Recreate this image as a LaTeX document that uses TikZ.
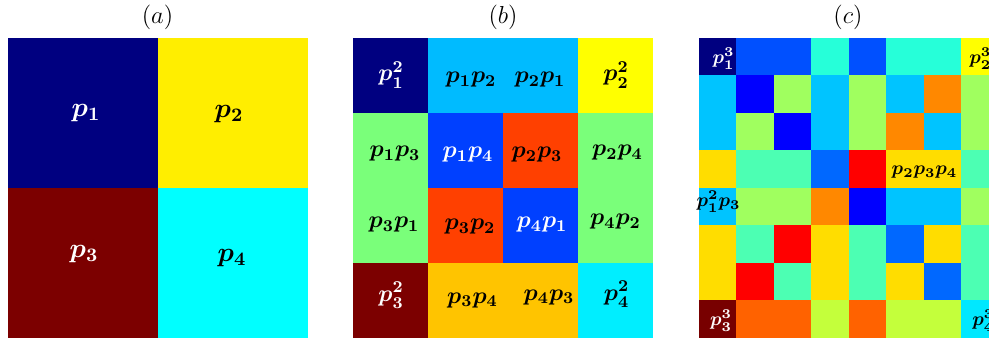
\RequirePackage{fix-cm}
\documentclass[tikz,border=0pt]{standalone}
\usepackage{amsmath}
\usetikzlibrary{positioning}

% jet colours
\definecolor{jnavy}{HTML}{000080}
\definecolor{jmaroon}{HTML}{7C0000}
\definecolor{jyella}{HTML}{FFEE00}
\definecolor{jyellow}{HTML}{FFFF00}
\definecolor{jcyan}{HTML}{00FFFF}
\definecolor{jcyanb}{HTML}{00EEFF}
\definecolor{jskyb}{HTML}{00BBFF}
\definecolor{jgreenb}{HTML}{7AFF7A}
\definecolor{jblueb}{HTML}{0040FF}
\definecolor{jredb}{HTML}{FF4000}
\definecolor{jgoldb}{HTML}{FFC400}
% panel (c)
\definecolor{cN}{HTML}{000080}
\definecolor{cB}{HTML}{0050FF}
\definecolor{cD}{HTML}{0068FF}
\definecolor{cU}{HTML}{0000FF}
\definecolor{cS}{HTML}{00C4FF}
\definecolor{cQ}{HTML}{26FFD9}
\definecolor{cA}{HTML}{4CFFB3}
\definecolor{cL}{HTML}{A0FF5F}
\definecolor{cW}{HTML}{C4FF3B}
\definecolor{cG}{HTML}{FFDD00}
\definecolor{cY}{HTML}{FFFF00}
\definecolor{cO}{HTML}{FF8800}
\definecolor{cE}{HTML}{FF6200}
\definecolor{cR}{HTML}{FF0000}
\definecolor{cM}{HTML}{780000}
\definecolor{cC}{HTML}{00E8FF}

\begin{document}
\begin{tikzpicture}[x=0.5pt, y=-0.5pt,
  title/.style={inner sep=0pt, font=\fontsize{12.3}{14}\selectfont},
  lbla/.style={inner sep=0pt, text=black, font=\fontsize{13.6}{16}\selectfont},
  lblb/.style={inner sep=0pt, text=black, font=\fontsize{11.8}{14}\selectfont},
  lblc/.style={inner sep=0pt, text=black, font=\fontsize{9.6}{11}\selectfont},
  light/.style={text=white}]

\useasboundingbox (0,0) rectangle (989,337);
\clip (0,0) rectangle (989,337);

% panel (a): 2x2
\foreach \row [count=\r from 0] in {{jnavy,jyella},{jmaroon,jcyan}} {
  \foreach \cc [count=\k from 0] in \row {
    \fill[\cc] (7.5+150*\k, 37.5+150*\r) rectangle ++(150,150);
  }
}
\node[title] (ta) at (157.5,17) {$(a)$};
\node[lbla, light] (pa1) at (86,113) {$\boldsymbol{p_1}$};
\node[lbla] (pa2) at (229,114) {$\boldsymbol{p_2}$};
\node[lbla, light] (pa3) at (84,254) {$\boldsymbol{p_3}$};
\node[lbla] (pa4) at (232,258) {$\boldsymbol{p_4}$};

% panel (b): 4x4
\foreach \row [count=\r from 0] in {
    {jnavy,jskyb,jskyb,jyellow},
    {jgreenb,jblueb,jredb,jgreenb},
    {jgreenb,jredb,jblueb,jgreenb},
    {jmaroon,jgoldb,jgoldb,jcyanb}} {
  \foreach \cc [count=\k from 0] in \row {
    \fill[\cc] (353+75*\k, 37.5+75*\r) rectangle ++(75,75);
  }
}
\node[title] (tb) at (503,17) {$(b)$};
\node[lblb, light] (pb11) at (391,75) {$\boldsymbol{p_1^2}$};
\node[lblb] (pb12) at (471,80) {$\boldsymbol{p_1p_2}$};
\node[lblb] (pb21) at (540,80) {$\boldsymbol{p_2p_1}$};
\node[lblb] (pb22) at (616,75) {$\boldsymbol{p_2^2}$};
\node[lblb] (pb13) at (395,154) {$\boldsymbol{p_1p_3}$};
\node[lblb, light] (pb14) at (468,155) {$\boldsymbol{p_1p_4}$};
\node[lblb] (pb23) at (537,155) {$\boldsymbol{p_2p_3}$};
\node[lblb] (pb24) at (617.5,153) {$\boldsymbol{p_2p_4}$};
\node[lblb] (pb31) at (394,225) {$\boldsymbol{p_3p_1}$};
\node[lblb] (pb32) at (470,227) {$\boldsymbol{p_3p_2}$};
\node[lblb, light] (pb41) at (542,225) {$\boldsymbol{p_4p_1}$};
\node[lblb] (pb42) at (615.5,222) {$\boldsymbol{p_4p_2}$};
\node[lblb, light] (pb33) at (391,295.5) {$\boldsymbol{p_3^2}$};
\node[lblb] (pb34) at (472.5,300.5) {$\boldsymbol{p_3p_4}$};
\node[lblb] (pb43) at (549,297.5) {$\boldsymbol{p_4p_3}$};
\node[lblb] (pb44) at (616.5,294.5) {$\boldsymbol{p_4^2}$};

% panel (c): 8x8
\foreach \row [count=\r from 0] in {
    {cN,cB,cB,cQ,cB,cQ,cQ,cY},
    {cS,cU,cL,cS,cL,cS,cO,cL},
    {cS,cL,cU,cS,cL,cO,cS,cL},
    {cG,cA,cA,cD,cR,cG,cG,cA},
    {cS,cL,cL,cO,cU,cS,cS,cL},
    {cG,cA,cR,cG,cA,cD,cG,cA},
    {cG,cR,cA,cG,cA,cG,cD,cA},
    {cM,cE,cE,cW,cE,cW,cW,cC}} {
  \foreach \cc [count=\k from 0] in \row {
    \fill[\cc] (698.5+37.5*\k, 37.5+37.5*\r) rectangle ++(37.5,37.5);
  }
}
\node[title] (tc) at (848,17) {$(c)$};
\node[lblc, light] (pc1) at (723.5,58.5) {$\boldsymbol{p_1^3}$};
\node[lblc, anchor=west] (pc2) at (969,58.5) {$\boldsymbol{p_2^3}$};
\node[lblc] (pc234) at (924.5,172.5) {$\boldsymbol{p_2p_3p_4}$};
\node[lblc] (pc113) at (718.5,202) {$\boldsymbol{p_1^2p_3}$};
\node[lblc, light] (pc3) at (721,321) {$\boldsymbol{p_3^3}$};
\node[lblc, anchor=west] (pc4) at (972,321) {$\boldsymbol{p_4^3}$};

\end{tikzpicture}
\end{document}
